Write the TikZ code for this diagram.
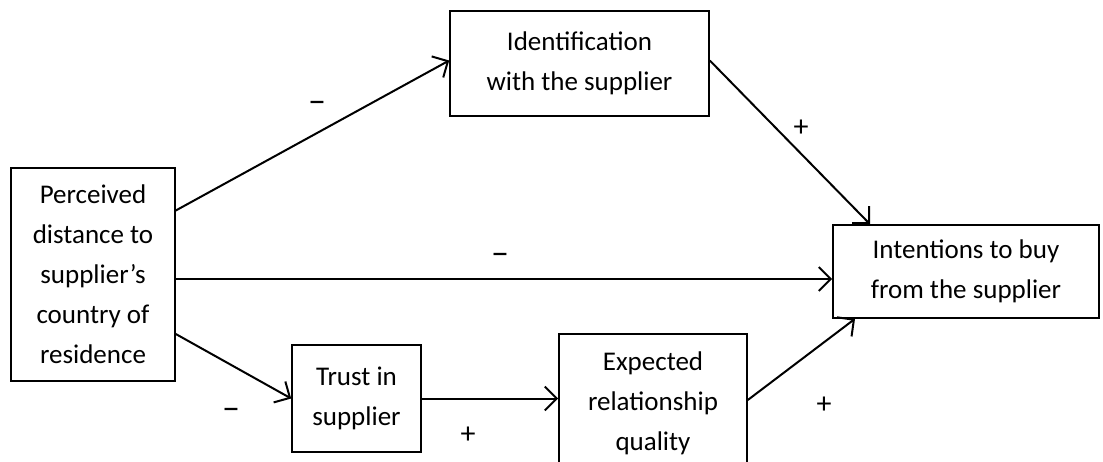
\documentclass[tikz,border=0pt]{standalone}
\usepackage{fontspec}
\setmainfont{Carlito}
\usetikzlibrary{arrows.meta}
\tikzset{>={Straight Barb[length=12pt,width=24pt,line width=2pt]}}
\tikzset{
  box/.style={draw, line width=1.6pt, align=center, inner sep=0pt,
    font=\fontsize{27}{40}\selectfont},
  link/.style={->, line width=2pt},
  sign/.style={font=\fontsize{30}{34}\selectfont, inner sep=0pt},
  minus/.style={sign, font=\fontsize{36}{40}\selectfont}
}

\begin{document}
\begin{tikzpicture}[x=1pt, y=-1pt]
      \clip (0, 0) rectangle (1103, 461);
      \node[box, minimum width=164pt, minimum height=213pt] (perc) at (93, 274.5)
        { Perceived\\distance to\\supplier’s\\country of\\residence };
      \node[box, minimum width=259pt, minimum height=105pt] (iden) at (579.5, 63.5)
        { Identification\\with the supplier };
      \node[box, minimum width=266pt, minimum height=93pt] (inten) at (966, 271.5)
        { Intentions to buy\\from the supplier };
      \node[box, minimum width=129pt, minimum height=107pt] (trust) at (356.5, 398.5)
        { Trust in\\supplier };
      \node[box, minimum width=188pt, minimum height=138pt] (expq) at (653, 403)
        { Expected\\relationship\\quality };
      \draw[link] ([yshift=64pt]perc.east) -- ([yshift=3pt]iden.west);
      \draw[link] ([yshift=3pt]iden.east) -- ([xshift=-96pt]inten.north);
      \draw[link] ([yshift=-4.5pt]perc.east) -- ([yshift=-7.5pt]inten.west);
      \draw[link] ([yshift=-59.5pt]perc.east) -- (trust.west);
      \draw[link] (trust.east) -- (expq.west |- trust.east);
      \draw[link] ([yshift=3pt]expq.east) -- ([xshift=-111pt]inten.south);
      \node[minus] (s1) at (317, 107) { – };
      \node[sign] (s2) at (801, 128) { + };
      \node[minus] (s3) at (500, 259) { – };
      \node[minus] (s4) at (231, 414) { – };
      \node[sign] (s5) at (468, 435) { + };
      \node[sign] (s6) at (824, 405) { + };
\end{tikzpicture}
\end{document}
